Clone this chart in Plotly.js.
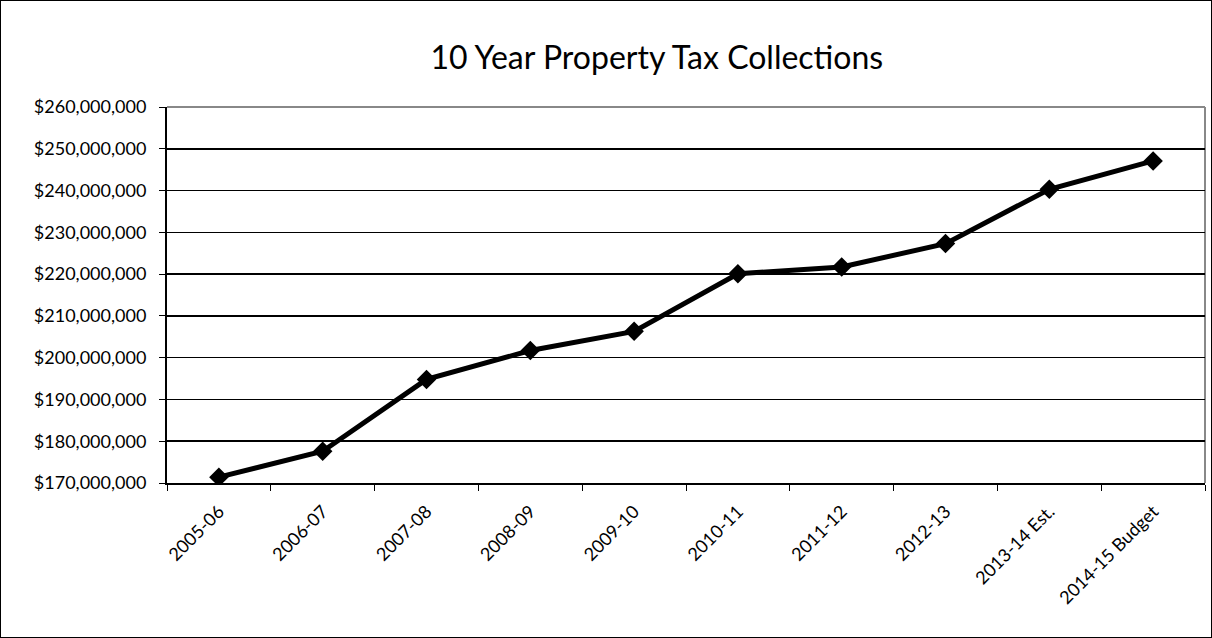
<!DOCTYPE html>
<html>
<head>
<meta charset="utf-8">
<script src="https://cdn.plot.ly/plotly-3.0.1.min.js"></script>
<style>
html, body { margin: 0; padding: 0; background: #fff; }
#chart { width: 1210px; height: 636px; border: 1px solid #000; }
</style>
</head>
<body>
<div id="chart"></div>
<script>
const chartTitle = "10 Year Property Tax Collections";
const fiscalYears = ["2005-06", "2006-07", "2007-08", "2008-09", "2009-10", "2010-11", "2011-12", "2012-13", "2013-14 Est.", "2014-15 Budget"];
const collections = [171400000, 177600000, 194800000, 201700000, 206300000, 220100000, 221700000, 227300000, 240300000, 247100000];
const yTickValues = [170000000, 180000000, 190000000, 200000000, 210000000, 220000000, 230000000, 240000000, 250000000, 260000000];

const fontFamily = "Lato, 'Open Sans', sans-serif";

const trace = {
  type: "scatter",
  mode: "lines+markers",
  x: fiscalYears,
  y: collections,
  line: { color: "#000", width: 5 },
  marker: { symbol: "diamond", size: 15, color: "#000" },
  hoverinfo: "x+y"
};

const layout = {
  width: 1210,
  height: 636,
  margin: { l: 166, r: 6, t: 106, b: 154 },
  paper_bgcolor: "#fff",
  plot_bgcolor: "#fff",
  showlegend: false,
  font: { family: fontFamily, color: "#000", size: 18 },
  title: {
    text: chartTitle,
    font: { family: fontFamily, size: 32, color: "#000" },
    x: 0.542, xanchor: "center",
    y: 0.91, yanchor: "middle"
  },
  xaxis: {
    type: "category",
    tickangle: -45,
    tickson: "boundaries",
    ticks: "outside",
    ticklen: 6,
    tickcolor: "#000",
    ticklabelstandoff: 9,
    showline: true,
    linecolor: "#000",
    linewidth: 2,
    showgrid: false,
    tickfont: { family: fontFamily, size: 18, color: "#000" },
    range: [-0.5, 9.5]
  },
  yaxis: {
    range: [170000000, 260000000],
    tickvals: yTickValues,
    tickformat: "$,.0f",
    ticks: "outside",
    ticklen: 6,
    tickcolor: "#000",
    ticklabelstandoff: 9,
    showline: true,
    linecolor: "#000",
    linewidth: 2,
    showgrid: true,
    gridcolor: "#000",
    gridwidth: 1.5,
    zeroline: false,
    tickfont: { family: fontFamily, size: 18, color: "#000" }
  },
  shapes: [
    { type: "line", xref: "paper", yref: "paper", x0: 0, x1: 1, y0: 1, y1: 1, line: { color: "#888", width: 2 }, layer: "above" },
    { type: "line", xref: "paper", yref: "paper", x0: 1, x1: 1, y0: 0, y1: 1, line: { color: "#888", width: 2 }, layer: "below" }
  ]
};

Plotly.newPlot("chart", [trace], layout, { displayModeBar: false, staticPlot: true });
</script>
</body>
</html>
